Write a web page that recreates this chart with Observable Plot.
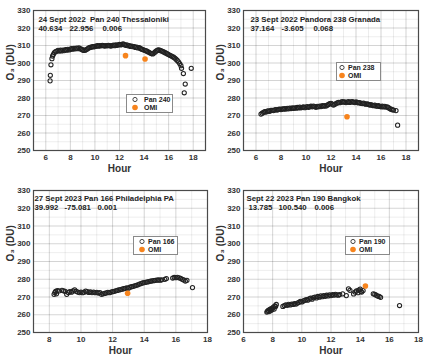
<!DOCTYPE html>
<html><head><meta charset="utf-8">
<script src="https://cdn.jsdelivr.net/npm/d3@7"></script>
<script src="https://cdn.jsdelivr.net/npm/@observablehq/plot@0.6"></script>
<style>
body{margin:0;background:#fff;font-family:"Liberation Sans",Arial,sans-serif;}
#wrap{position:relative;width:427px;height:360px;overflow:hidden;}
.panel{position:absolute;}
.legend{position:absolute;border:1px solid #8a8a8a;background:#fff;font:bold 7px "Liberation Sans",Arial,sans-serif;color:#222;box-sizing:border-box;}
.legend .row{position:absolute;left:0;height:9px;line-height:9px;white-space:nowrap;}
.legend svg{position:absolute;top:0;}
.legend span{position:absolute;}
</style></head>
<body><div id="wrap"></div>
<script>
// ---- Data ----
const yTicks = [250,260,270,280,290,300,310,320,330];

const p240Hour = [6.35,6.37,6.42,6.5,6.55,6.62,6.7,6.8,6.9,7.0,7.1,7.2,7.3,7.4,7.5,7.6,7.7,7.8,7.9,8.0,8.1,8.2,8.3,8.4,8.5,8.6,8.7,8.8,8.9,9.0,9.1,9.2,9.3,9.4,9.5,9.6,9.7,9.8,9.9,10.0,10.1,10.2,10.3,10.4,10.5,10.6,10.7,10.8,10.9,11.0,11.1,11.2,11.3,11.4,11.5,11.6,11.7,11.8,11.9,12.0,12.1,12.2,12.3,12.4,12.5,12.6,12.7,12.8,12.9,13.0,13.1,13.2,13.3,13.4,13.5,13.6,13.7,13.8,13.9,14.0,14.1,14.2,14.3,14.4,14.5,14.6,14.7,14.8,14.9,15.0,15.1,15.2,15.3,15.4,15.5,15.6,15.7,15.8,15.9,16.0,16.1,16.2,16.3,16.4,16.5,16.6,16.7,16.8,16.9,17.0,17.05,17.2,17.27,17.35,17.84];
const p240O3 = [289.8,293,299,302.5,304,305,306,306.5,306.8,307.2,306.8,307.3,306.9,307.4,307.1,307.6,307.3,307.8,307.5,307.9,308.2,307.9,308.4,308.1,308.5,308.2,308.6,308.1,307.9,307.5,307.2,307.3,307.7,308.1,308.6,308.9,309.1,309.4,309.2,309.5,309.7,309.9,309.6,310.0,309.8,310.1,309.9,309.7,310.0,309.8,310.1,309.9,309.7,310.0,310.2,309.9,310.3,310.1,310.4,310.6,310.3,310.7,310.9,310.5,310.1,310.4,309.8,310.0,309.5,309.7,309.3,309.4,308.9,309.1,308.6,308.8,308.3,307.9,307.7,307.4,307.1,306.9,306.5,306.1,305.7,305.4,305.2,305.7,306.3,306.9,307.3,307.5,307.2,306.9,306.7,306.3,305.9,305.6,305.2,304.8,304.4,304.1,303.7,303.3,302.8,302.2,301.5,300.7,299.7,298.5,297,294,283,288,297];
const omi1Hour = [12.49,14.08];
const omi1O3 = [304.2,302.3];

const p238Hour = [6.4,6.5,6.6,6.7,6.8,6.9,7.0,7.1,7.2,7.3,7.4,7.5,7.6,7.7,7.8,7.9,8.0,8.1,8.2,8.3,8.4,8.5,8.6,8.7,8.8,8.9,9.0,9.1,9.2,9.3,9.4,9.5,9.6,9.7,9.8,9.9,10.0,10.1,10.2,10.3,10.4,10.5,10.6,10.7,10.8,10.9,11.0,11.1,11.2,11.3,11.4,11.5,11.6,11.7,11.8,11.9,12.0,12.1,12.2,12.3,12.4,12.5,12.6,12.7,12.8,12.9,13.0,13.1,13.2,13.3,13.4,13.5,13.6,13.7,13.8,13.9,14.0,14.1,14.2,14.3,14.4,14.5,14.6,14.7,14.8,14.9,15.0,15.1,15.2,15.3,15.4,15.5,15.6,15.7,15.8,15.9,16.0,16.1,16.2,16.3,16.4,16.5,16.6,16.7,16.8,16.9,17.0,17.2,17.33];
const p238O3 = [270.8,271.3,271.8,272.2,272.0,272.5,272.7,272.4,272.9,273.0,272.8,273.2,273.4,273.1,273.5,273.7,273.4,273.8,273.6,274.0,273.7,274.1,273.8,274.2,274.0,274.3,274.1,274.4,274.2,274.6,274.3,274.8,274.4,274.6,274.9,274.5,274.8,275.1,274.7,275.0,275.3,275.0,275.4,275.1,274.7,275.2,275.0,275.4,275.1,275.6,275.3,275.7,275.4,275.9,276.3,276.8,277.0,276.5,276.0,276.4,276.8,277.2,277.5,277.3,277.7,277.9,277.6,277.8,277.4,277.7,277.9,277.5,277.8,278.0,277.6,277.4,277.8,277.5,277.2,277.4,277.0,276.8,277.1,276.7,276.5,276.7,276.3,276.0,276.2,275.8,275.6,275.9,275.5,275.3,275.6,275.2,275.0,275.3,274.9,275.2,274.8,275.0,274.5,274.0,273.6,273.3,273.1,272.8,264.5];
const omi2Hour = [13.28];
const omi2O3 = [269.3];

const p166Hour = [8.3,8.35,8.4,8.45,8.5,8.6,8.8,8.9,9.0,9.1,9.2,9.3,9.4,9.5,9.6,9.7,9.8,9.9,10.0,10.1,10.2,10.3,10.4,10.5,10.6,10.7,10.8,10.9,11.0,11.1,11.2,11.3,11.4,11.5,11.6,11.7,11.8,11.9,12.0,12.1,12.2,12.3,12.4,12.5,12.6,12.7,12.8,12.9,13.0,13.1,13.2,13.3,13.4,13.5,13.6,13.7,13.8,13.9,14.0,14.1,14.2,14.3,14.4,14.5,14.6,14.7,14.8,14.9,15.0,15.1,15.3,15.4,15.8,15.9,16.0,16.1,16.2,16.3,16.4,16.5,16.6,16.7,17.05];
const p166O3 = [271.5,272.5,273.2,271.8,273.6,273.4,273.8,273.5,273.2,271.5,272.6,273.0,272.7,273.4,274.0,273.2,272.8,272.5,272.8,272.4,272.7,273.3,273.0,272.6,272.9,272.5,272.8,272.4,272.6,272.2,272.4,271.5,271.8,272.0,272.3,272.6,272.4,272.8,273.0,273.2,273.5,273.7,274.0,274.2,274.4,274.7,274.9,275.2,275.0,275.5,275.8,276.0,276.3,276.6,276.9,277.3,277.6,277.9,278.1,278.3,278.5,278.7,278.9,279.1,279.2,279.4,279.5,279.6,279.5,279.7,280.0,280.4,280.7,281.0,280.9,281.1,280.8,280.5,280.0,279.6,279.0,279.4,275.3];
const omi3Hour = [12.95];
const omi3O3 = [272.1];

const p190Hour = [7.6,7.65,7.7,7.75,7.8,7.85,7.9,7.95,8.0,8.05,8.1,8.15,8.2,8.25,8.7,8.8,8.9,9.0,9.1,9.2,9.3,9.4,9.5,9.6,9.7,9.8,9.9,10.0,10.1,10.2,10.3,10.4,10.5,10.6,10.7,10.8,10.9,11.0,11.1,11.2,11.3,11.4,11.5,11.6,11.7,11.8,11.9,12.0,12.1,12.2,12.3,12.4,12.5,12.6,12.8,13.05,13.2,13.3,13.55,13.65,13.75,13.85,13.9,14.0,14.05,14.1,14.2,14.9,15.0,15.1,15.2,15.3,15.4,16.7];
const p190O3 = [261.5,262.0,262.5,261.8,263.0,262.3,263.5,262.8,263.8,264.3,263.2,265.0,264.6,265.8,264.7,265.2,265.6,265.3,265.9,265.5,266.0,265.8,266.3,266.0,266.6,267.0,267.5,267.2,267.8,268.1,268.5,268.2,268.9,269.3,268.8,269.6,270.0,269.5,270.3,269.9,270.6,270.2,270.8,270.4,271.0,270.6,271.2,270.8,271.4,271.0,271.5,271.2,271.0,271.4,271.8,270.8,274.6,273.8,271.7,272.8,273.4,272.4,273.9,274.4,273.2,272.8,273.6,271.8,271.5,271.0,270.5,270.3,269.8,265.2];
const omi4Hour = [14.36];
const omi4O3 = [276.2];

const titles = ["24 Sept 2022  Pan 240 Thessaloniki","23 Sept 2022 Pandora 238 Granada","27 Sept 2023 Pan 166 Philadelphia PA","Sept 22 2023 Pan 190 Bangkok"];
const coordsText = [["40.634","22.956","0.006"],["37.164","-3.605","0.068"],["39.992","-75.081","0.001"],["13.785","100.540","0.006"]];
const panNames = ["Pan 240","Pan 238","Pan 166","Pan 190"];
const xDomains = [[5,19],[5,19],[7,18],[6,18]];
const xTickSets = [[6,8,10,12,14,16,18],[6,8,10,12,14,16,18],[8,10,12,14,16,18],[6,8,10,12,14,16,18]];

// ---- Layout ----
const panels = [
  {left:0, top:0, w:213, ml:33, mr:8, mt:10, mb:30, tx:[5,5,36,69], ty:[6,15], hours:p240Hour, o3:p240O3, oh:omi1Hour, oo:omi1O3, leg:{x:126,y:94,w:47,h:19,mx:3,tx:17}},
  {left:213, top:0, w:214, ml:30, mr:9, mt:10, mb:30, tx:[7,7,38,70], ty:[6,15], hours:p238Hour, o3:p238O3, oh:omi2Hour, oo:omi2O3, leg:{x:336,y:62,w:45,h:19,mx:0,tx:11}},
  {left:0, top:180, w:213, ml:33, mr:6, mt:10, mb:28, tx:[1,1,31,64], ty:[5,14], hours:p166Hour, o3:p166O3, oh:omi3Hour, oo:omi3O3, leg:{x:133,y:236,w:45,h:19,mx:3,tx:14}},
  {left:213, top:180, w:214, ml:30, mr:9, mt:10, mb:28, tx:[3,5,35,71], ty:[5,14], hours:p190Hour, o3:p190O3, oh:omi4Hour, oo:omi4O3, leg:{x:345,y:236,w:45,h:19,mx:2,tx:13}}
];
const wrap = document.getElementById("wrap");
const ORANGE = "#f7841d";

panels.forEach((p, i) => {
  const pan = p.hours.map((h, k) => ({hour: h, o3: p.o3[k]}));
  const omi = p.oh.map((h, k) => ({hour: h, o3: p.oo[k]}));
  const [x0, x1] = xDomains[i];
  const minorX = d3.range(Math.ceil(x0), x1 + 0.001, 1);
  const minorY = d3.range(250, 331, 5);
  const txt = {frameAnchor: "top-left", textAnchor: "start", fontSize: 7.8, fontWeight: "bold", fill: "#222"};
  const chart = Plot.plot({
    width: p.w, height: 180,
    marginLeft: p.ml, marginRight: p.mr, marginTop: p.mt, marginBottom: p.mb,
    style: {fontFamily: '"Liberation Sans", Arial, sans-serif', fontSize: "8px", fontWeight: "bold", color: "#333", background: "white"},
    x: {domain: xDomains[i], label: null},
    y: {domain: [250, 330], label: null},
    marks: [
      Plot.gridX(minorX, {stroke: "#000", strokeOpacity: 0.07}),
      Plot.gridY(minorY, {stroke: "#000", strokeOpacity: 0.07}),
      Plot.gridX(xTickSets[i], {stroke: "#000", strokeOpacity: 0.1}),
      Plot.gridY(yTicks, {stroke: "#000", strokeOpacity: 0.1}),
      Plot.axisX({ticks: xTickSets[i], tickSize: 0, tickPadding: 4, tickFormat: d => d}),
      Plot.axisY({ticks: yTicks, tickSize: 0, tickPadding: 3, tickFormat: d => d}),
      Plot.frame({stroke: "#4a4a4a", strokeWidth: 1.2}),
      Plot.dot(pan, {x: "hour", y: "o3", r: 2.1, stroke: "#222", strokeWidth: 1.05, fill: "none"}),
      Plot.dot(omi, {x: "hour", y: "o3", r: 2.8, fill: ORANGE, stroke: "none"}),
      Plot.text(["O₃ (DU)"], {frameAnchor: "left", rotate: -90, dx: -23, fontSize: 10, fontWeight: "bold", fill: "#333"}),
      Plot.text(["Hour"], {frameAnchor: "bottom", dy: 21, fontSize: 10, fontWeight: "bold", fill: "#333"}),
      Plot.text([titles[i]], {...txt, dx: p.tx[0], dy: p.ty[0]}),
      Plot.text([coordsText[i][0]], {...txt, dx: p.tx[1], dy: p.ty[1]}),
      Plot.text([coordsText[i][1]], {...txt, dx: p.tx[2], dy: p.ty[1]}),
      Plot.text([coordsText[i][2]], {...txt, dx: p.tx[3], dy: p.ty[1]})
    ]
  });
  const holder = document.createElement("div");
  holder.className = "panel";
  holder.style.left = p.left + "px";
  holder.style.top = p.top + "px";
  holder.appendChild(chart);
  wrap.appendChild(holder);

  // legend
  const L = p.leg;
  const lg = document.createElement("div");
  lg.className = "legend";
  Object.assign(lg.style, {left: L.x + "px", top: L.y + "px", width: L.w + "px", height: L.h + "px"});
  lg.innerHTML =
    `<div class="row" style="top:0px;width:100%"><svg width="10" height="9" style="left:${L.mx}px"><circle cx="5" cy="4.5" r="2.1" fill="none" stroke="#333" stroke-width="0.9"/></svg><span style="left:${L.tx}px">${panNames[i]}</span></div>` +
    `<div class="row" style="top:8px;width:100%"><svg width="10" height="9" style="left:${L.mx}px"><circle cx="5" cy="4.5" r="2.8" fill="${ORANGE}"/></svg><span style="left:${L.tx}px">OMI</span></div>`;
  wrap.appendChild(lg);
});
</script></body></html>
